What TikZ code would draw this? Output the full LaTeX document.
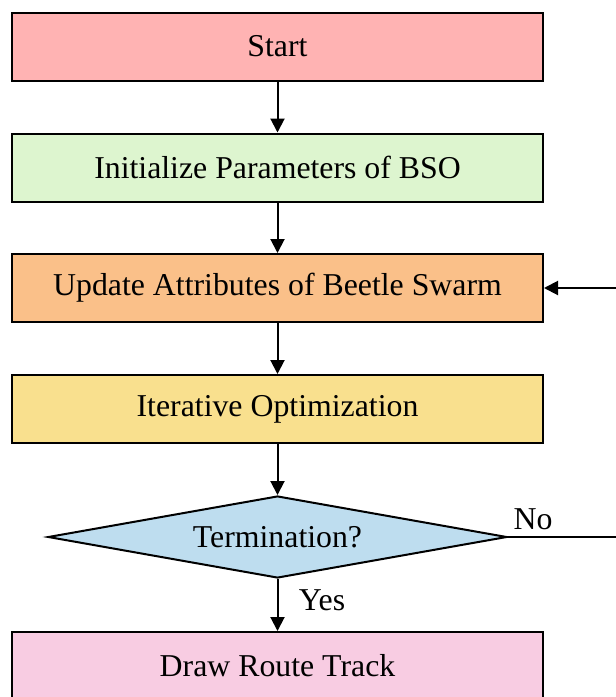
\documentclass[tikz,border=0pt]{standalone}
\usepackage{fontspec}
\setmainfont{Liberation Serif}
\usetikzlibrary{shapes.geometric,arrows.meta}
\definecolor{cstart}{RGB}{255,179,179}
\definecolor{cinit}{RGB}{221,245,207}
\definecolor{cupd}{RGB}{250,192,137}
\definecolor{citer}{RGB}{249,224,142}
\definecolor{cdia}{RGB}{190,221,239}
\definecolor{cdraw}{RGB}{248,204,226}
\tikzset{
  procbox/.style={draw=black, line width=1pt, minimum width=265.5pt, minimum height=34pt, inner sep=0pt, font=\fontsize{15.9}{19}\selectfont},
  decbox/.style={draw=black, line width=1pt, diamond, aspect=5.6, minimum width=229.5pt, minimum height=41pt, inner sep=0pt, font=\fontsize{15.9}{19}\selectfont},
  arr/.style={line width=1pt, -{Triangle[length=7pt,width=7pt]}},
  lbl/.style={font=\fontsize{15.9}{19}\selectfont, inner sep=0pt}
}
\begin{document}
\begin{tikzpicture}[x=0.5pt,y=-0.5pt]
\useasboundingbox (0,0) rectangle (616,697);
\clip (0,0) rectangle (616,697);
\fill[white] (0,0) rectangle (616,697);
\node[procbox, fill=cstart] (start) at (277.5,46.5) {Start};
\node[procbox, fill=cinit] (init) at (277.5,167.5) {Initialize Parameters of BSO};
\node[procbox, fill=cupd] (upd) at (277.5,288) {Update Attributes of Beetle Swarm};
\node[procbox, fill=citer] (iter) at (277.5,409) {Iterative Optimization};
\node[decbox, fill=cdia] (dec) at (277.5,537) {Termination?};
\node[procbox, fill=cdraw] (draw) at (277.5,666) {Draw Route Track};
\coordinate (loop) at (660,412);
\draw[arr] (start) -- (init);
\draw[arr] (init) -- (upd);
\draw[arr] (upd) -- (iter);
\draw[arr] (iter) -- (dec);
\draw[arr] (dec) -- (draw);
\draw[arr] (dec.east) -- (dec.east -| loop) |- (upd.east);
\node[lbl] (no) at (533,519) {No};
\node[lbl] (yes) at (322,600) {Yes};
\end{tikzpicture}
\end{document}
